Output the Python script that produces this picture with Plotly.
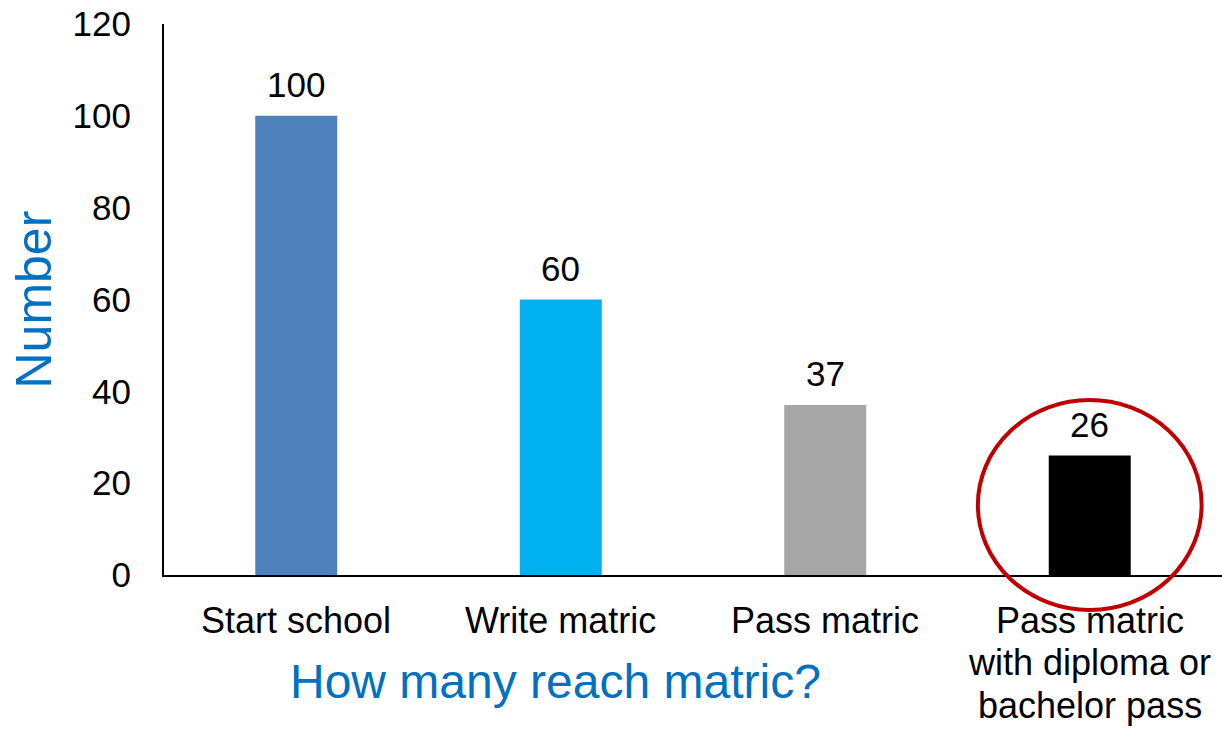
import plotly.graph_objects as go

# Learners per 100 who reach each stage
stages = ["Start school", "Write matric", "Pass matric",
          "Pass matric<br>with diploma or<br>bachelor pass"]
counts = [100, 60, 37, 26]
bar_colors = ["#4F81BD", "#00B0F0", "#A6A6A6", "#000000"]
y_ticks = [0, 20, 40, 60, 80, 100, 120]

FONT = "Liberation Sans, Arial, sans-serif"
BLUE = "#0070C0"
X_RANGE = [-0.5, 3.5]
Y_RANGE = [0, 120]
CAT_FONT = 36
CAT_LINE_GAP = 42.5  # tighter than plotly's default 1.3em line spacing

fig = go.Figure(
    go.Bar(
        x=list(range(len(stages))),
        y=counts,
        width=0.31,
        marker=dict(color=bar_colors, line=dict(width=0)),
        hoverinfo="skip",
    )
)

# value labels above each bar
for i, v in enumerate(counts):
    fig.add_annotation(
        x=i, y=v, xref="x", yref="y", text=str(v), showarrow=False,
        yanchor="bottom", yshift=10,
        font=dict(family=FONT, size=35, color="#000000"),
    )

# category labels, one line at a time so the wrapped label stays compact
for i, label in enumerate(stages):
    for k, line in enumerate(label.split("<br>")):
        fig.add_annotation(
            x=i, xref="x", y=0, yref="paper", text=line, showarrow=False,
            xanchor="center", yanchor="middle",
            yshift=-(45 + k * CAT_LINE_GAP),
            font=dict(family=FONT, size=CAT_FONT, color="#000000"),
        )


def to_paper_x(v):
    return (v - X_RANGE[0]) / (X_RANGE[1] - X_RANGE[0])


def to_paper_y(v):
    return (v - Y_RANGE[0]) / (Y_RANGE[1] - Y_RANGE[0])


# highlight ring around the final stage (paper refs so it can cross the axis)
fig.add_shape(
    type="circle", xref="paper", yref="paper",
    x0=to_paper_x(2.577), x1=to_paper_x(3.423),
    y0=to_paper_y(-7.6), y1=to_paper_y(38.1),
    line=dict(color="#C00000", width=4),
    layer="above",
)

fig.add_annotation(
    text="How many reach matric?", xref="paper", yref="paper",
    x=(555 - 164) / 1058, y=0, yshift=-106, showarrow=False,
    xanchor="center", yanchor="middle",
    font=dict(family=FONT, size=48, color=BLUE),
)
fig.add_annotation(
    text="Number", xref="paper", yref="paper",
    x=0, xshift=-131, y=0.5, showarrow=False, textangle=-90,
    xanchor="center", yanchor="middle",
    font=dict(family=FONT, size=50, color=BLUE),
)

fig.update_layout(
    width=1222, height=730,
    margin=dict(l=164, r=0, t=24, b=155),
    paper_bgcolor="white", plot_bgcolor="white",
    showlegend=False,
    font=dict(family=FONT, color="#000000"),
)
fig.update_xaxes(
    range=X_RANGE, automargin=False,
    tickmode="array", tickvals=list(range(len(stages))), showticklabels=False,
    showline=True, linecolor="#000000", linewidth=2,
    showgrid=False, zeroline=False, ticks="",
)
fig.update_yaxes(
    range=Y_RANGE, automargin=False, tickvals=y_ticks,
    showline=True, linecolor="#000000", linewidth=2,
    showgrid=False, zeroline=False, ticks="",
    tickfont=dict(family=FONT, size=35, color="#000000"),
    ticklabelstandoff=24,
)

fig.write_html("out.html")
